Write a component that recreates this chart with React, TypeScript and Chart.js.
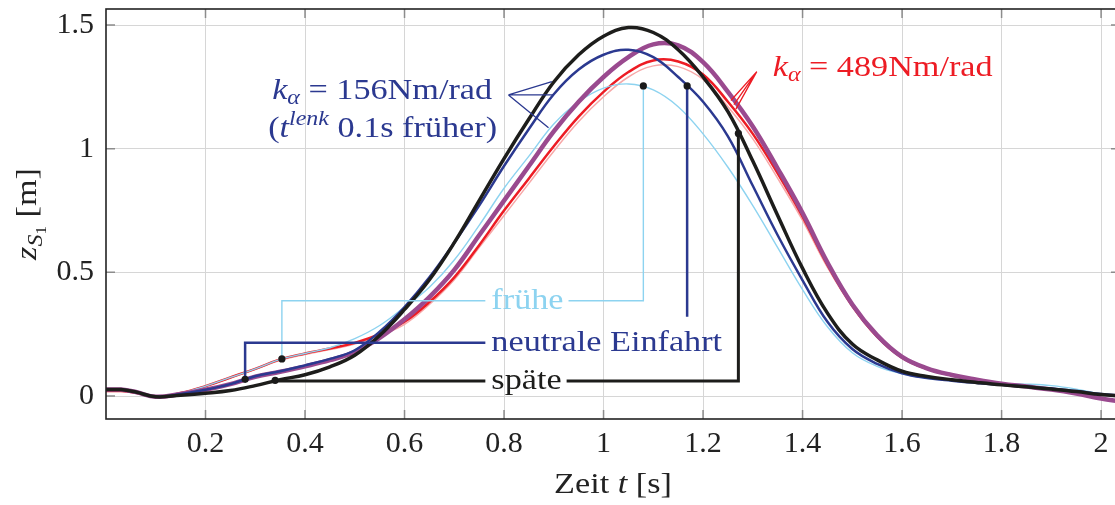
import React, { useEffect, useRef } from 'react';
import { Chart, registerables } from 'chart.js';

Chart.register(...registerables);

// ---------- data ----------
const TIME = [0, 0.03, 0.06, 0.1, 0.15, 0.2, 0.25, 0.3, 0.35, 0.4, 0.45, 0.5, 0.55, 0.6, 0.65, 0.7, 0.75, 0.8, 0.85, 0.9, 0.95, 1.0, 1.05, 1.1, 1.15, 1.2, 1.25, 1.3, 1.35, 1.4, 1.45, 1.5, 1.55, 1.6, 1.65, 1.7, 1.75, 1.8, 1.85, 1.9, 1.95, 2.0, 2.04];

// k_alpha = 156 Nm/rad
const SPAETE_156 = [0.026, 0.026, 0.016, -0.003, 0.003, 0.011, 0.022, 0.042, 0.066, 0.086, 0.118, 0.165, 0.245, 0.35, 0.47, 0.62, 0.79, 0.96, 1.12, 1.27, 1.38, 1.455, 1.49, 1.47, 1.40, 1.29, 1.15, 0.95, 0.73, 0.516, 0.335, 0.21, 0.146, 0.10, 0.079, 0.066, 0.055, 0.045, 0.037, 0.028, 0.018, 0.006, 0.0];
const NEUTRAL_156 = [0.026, 0.026, 0.016, -0.003, 0.008, 0.025, 0.048, 0.080, 0.100, 0.124, 0.150, 0.185, 0.26, 0.36, 0.48, 0.62, 0.77, 0.93, 1.08, 1.22, 1.32, 1.38, 1.40, 1.37, 1.29, 1.19, 1.05, 0.85, 0.65, 0.468, 0.30, 0.19, 0.13, 0.092, 0.073, 0.062, 0.053, 0.045, 0.038, 0.03, 0.02, 0.008, 0.002];
const FRUEHE_156 = [0.024, 0.024, 0.015, -0.003, 0.012, 0.040, 0.075, 0.110, 0.148, 0.172, 0.195, 0.232, 0.285, 0.36, 0.44, 0.55, 0.69, 0.84, 0.97, 1.10, 1.19, 1.245, 1.262, 1.238, 1.17, 1.06, 0.925, 0.77, 0.60, 0.43, 0.28, 0.175, 0.12, 0.09, 0.072, 0.062, 0.055, 0.05, 0.048, 0.042, 0.028, 0.008, 0.0];
// k_alpha = 489 Nm/rad
const SERIES_489_A = [0.026, 0.026, 0.016, -0.003, 0.008, 0.025, 0.048, 0.078, 0.098, 0.12, 0.145, 0.178, 0.235, 0.31, 0.40, 0.51, 0.65, 0.79, 0.93, 1.07, 1.19, 1.29, 1.37, 1.422, 1.418, 1.35, 1.23, 1.09, 0.92, 0.74, 0.54, 0.37, 0.245, 0.158, 0.112, 0.085, 0.066, 0.05, 0.038, 0.026, 0.01, -0.01, -0.022];
const SERIES_489_B = [0.02, 0.02, 0.013, -0.003, 0.012, 0.040, 0.075, 0.110, 0.148, 0.172, 0.192, 0.215, 0.25, 0.30, 0.38, 0.48, 0.61, 0.75, 0.88, 1.01, 1.13, 1.23, 1.31, 1.357, 1.353, 1.30, 1.19, 1.06, 0.90, 0.725, 0.53, 0.365, 0.24, 0.155, 0.11, 0.084, 0.065, 0.05, 0.038, 0.026, 0.01, -0.01, -0.022];
const SERIES_489_C = [0.02, 0.02, 0.013, -0.003, 0.012, 0.040, 0.074, 0.108, 0.144, 0.168, 0.188, 0.21, 0.245, 0.29, 0.37, 0.47, 0.60, 0.73, 0.86, 0.99, 1.11, 1.21, 1.29, 1.335, 1.332, 1.28, 1.17, 1.04, 0.88, 0.71, 0.52, 0.36, 0.238, 0.153, 0.109, 0.083, 0.064, 0.049, 0.037, 0.025, 0.01, -0.01, -0.022];

const X_TICKS = [0.2, 0.4, 0.6, 0.8, 1, 1.2, 1.4, 1.6, 1.8, 2];
const Y_TICKS = [0, 0.5, 1, 1.5];
const X_RANGE = [0, 2.038];
const Y_RANGE = [-0.093, 1.565];

// callouts (data coordinates)
const LABEL_X = 0.7745;
const FRUEHE_START = [0.3535, 0.150];
const FRUEHE_LEVEL = 0.385;
const FRUEHE_END = [1.08, 1.254];
const NEUTRAL_START = [0.2796, 0.0676];
const NEUTRAL_LEVEL = 0.215;
const NEUTRAL_END = [1.168, 1.254];
const NEUTRAL_END_BOTTOM = 0.32;
const SPAETE_START = [0.340, 0.0636];
const SPAETE_LEVEL = 0.061;
const SPAETE_END = [1.271, 1.062];

// annotation texts & fan lines
const K156_TEXT_POS = [0.334, 1.201];
const K156_TEXT2_POS = [0.326, 1.049];
const K156_FAN_FROM = [0.8089, 1.2174];
const K156_FAN_TO = [[0.8961, 1.2713], [0.8994, 1.2174], [0.8894, 1.085]];
const K489_TEXT_POS = [1.340, 1.294];
const K489_FAN_FROM = [1.308, 1.312];
const K489_FAN_TO = [[1.256, 1.195], [1.262, 1.178], [1.266, 1.16]];

// ---------- styling ----------
const FONT = '"Liberation Serif", "Times New Roman", serif';
const BASE = 30;
const SMALL = 21;
const SX = 1.14;
const C_BLACK = '#1d1d1b';
const C_NAVY = '#2b3990';
const C_SKY = '#8dd3f0';
const C_PURPLE = '#9a4a8f';
const C_RED = '#ed1c24';
const C_PINK = '#f7a8a8';

const SERIES = [
  { label: 'späte (156)', values: SPAETE_156, color: C_BLACK, width: 3.5 },
  { label: 'neutrale (156)', values: NEUTRAL_156, color: C_NAVY, width: 2.5 },
  { label: 'purple (489)', values: SERIES_489_A, color: C_PURPLE, width: 4.5 },
  { label: 'frühe (156)', values: FRUEHE_156, color: C_SKY, width: 1.4 },
  { label: 'red (489)', values: SERIES_489_B, color: C_RED, width: 2.5 },
  { label: 'pink (489)', values: SERIES_489_C, color: C_PINK, width: 1.5 },
];

type Part = { t: string; it?: boolean; size?: number; dy?: number };

function fontOf(p: Part) {
  return `${p.it ? 'italic ' : ''}${p.size ?? BASE}px ${FONT}`;
}
function partsWidth(ctx: CanvasRenderingContext2D, parts: Part[]) {
  let w = 0;
  for (const p of parts) {
    ctx.font = fontOf(p);
    w += ctx.measureText(p.t).width;
  }
  return w * SX;
}
function drawParts(ctx: CanvasRenderingContext2D, parts: Part[], x: number, y: number, color: string) {
  ctx.save();
  ctx.translate(x, y);
  ctx.scale(SX, 1);
  ctx.fillStyle = color;
  ctx.textBaseline = 'alphabetic';
  ctx.textAlign = 'left';
  let cx = 0;
  for (const p of parts) {
    ctx.font = fontOf(p);
    ctx.fillText(p.t, cx, p.dy ?? 0);
    cx += ctx.measureText(p.t).width;
  }
  ctx.restore();
}

const framePlugin = {
  id: 'frameAndNotes',
  beforeDatasetsDraw(chart: any) {
    const { ctx, chartArea: a, scales } = chart;
    const xs = scales.x, ys = scales.y;
    ctx.save();
    ctx.strokeStyle = '#8c8c8c';
    ctx.lineWidth = 1.5;
    ctx.beginPath();
    for (const v of X_TICKS) {
      const px = xs.getPixelForValue(v);
      ctx.moveTo(px, a.bottom); ctx.lineTo(px, a.bottom - 9);
      ctx.moveTo(px, a.top); ctx.lineTo(px, a.top + 9);
    }
    for (const v of Y_TICKS) {
      const py = ys.getPixelForValue(v);
      ctx.moveTo(a.left, py); ctx.lineTo(a.left + 9, py);
      ctx.moveTo(a.right, py); ctx.lineTo(a.right - 9, py);
    }
    ctx.stroke();
    ctx.restore();
  },
  afterDatasetsDraw(chart: any) {
    const { ctx, chartArea: a, scales } = chart;
    const X = (v: number) => scales.x.getPixelForValue(v);
    const Y = (v: number) => scales.y.getPixelForValue(v);
    ctx.save();

    // frame
    ctx.strokeStyle = '#222';
    ctx.lineWidth = 1.6;
    ctx.strokeRect(a.left, a.top, a.right - a.left, a.bottom - a.top);

    // callouts
    const gapL = 6, gapR = 5;
    const lx = X(LABEL_X);
    const frueheParts: Part[] = [{ t: 'frühe' }];
    const neutralParts: Part[] = [{ t: 'neutrale Einfahrt' }];
    const spaeteParts: Part[] = [{ t: 'späte' }];
    ctx.lineCap = 'butt';
    ctx.lineJoin = 'miter';

    // frühe
    {
      const w = partsWidth(ctx, frueheParts);
      ctx.strokeStyle = C_SKY; ctx.lineWidth = 1.4;
      ctx.beginPath();
      ctx.moveTo(X(FRUEHE_START[0]), Y(FRUEHE_START[1]));
      ctx.lineTo(X(FRUEHE_START[0]), Y(FRUEHE_LEVEL));
      ctx.lineTo(lx - gapL, Y(FRUEHE_LEVEL));
      ctx.moveTo(lx + w + gapR, Y(FRUEHE_LEVEL));
      ctx.lineTo(X(FRUEHE_END[0]), Y(FRUEHE_LEVEL));
      ctx.lineTo(X(FRUEHE_END[0]), Y(FRUEHE_END[1]));
      ctx.stroke();
      drawParts(ctx, frueheParts, lx, Y(FRUEHE_LEVEL) + 8, C_SKY);
    }
    // neutrale
    {
      ctx.strokeStyle = C_NAVY; ctx.lineWidth = 2.5;
      ctx.beginPath();
      ctx.moveTo(X(NEUTRAL_START[0]), Y(NEUTRAL_START[1]));
      ctx.lineTo(X(NEUTRAL_START[0]), Y(NEUTRAL_LEVEL));
      ctx.lineTo(lx - gapL, Y(NEUTRAL_LEVEL));
      ctx.moveTo(X(NEUTRAL_END[0]), Y(NEUTRAL_END_BOTTOM));
      ctx.lineTo(X(NEUTRAL_END[0]), Y(NEUTRAL_END[1]));
      ctx.stroke();
      drawParts(ctx, neutralParts, lx, Y(NEUTRAL_LEVEL) + 8, C_NAVY);
    }
    // späte
    {
      const w = partsWidth(ctx, spaeteParts);
      ctx.strokeStyle = C_BLACK; ctx.lineWidth = 3;
      ctx.beginPath();
      ctx.moveTo(X(SPAETE_START[0]), Y(SPAETE_LEVEL));
      ctx.lineTo(lx - gapL, Y(SPAETE_LEVEL));
      ctx.moveTo(lx + w + gapR, Y(SPAETE_LEVEL));
      ctx.lineTo(X(SPAETE_END[0]), Y(SPAETE_LEVEL));
      ctx.lineTo(X(SPAETE_END[0]), Y(SPAETE_END[1]));
      ctx.stroke();
      drawParts(ctx, spaeteParts, lx, Y(SPAETE_LEVEL) + 8, C_BLACK);
    }
    // dots
    ctx.fillStyle = '#1a1a1a';
    for (const p of [FRUEHE_START, FRUEHE_END, NEUTRAL_START, NEUTRAL_END, SPAETE_START, SPAETE_END]) {
      ctx.beginPath();
      ctx.arc(X(p[0]), Y(p[1]), 3.6, 0, Math.PI * 2);
      ctx.fill();
    }

    // fan lines
    ctx.lineWidth = 1.3;
    ctx.strokeStyle = C_NAVY;
    ctx.beginPath();
    for (const t of K156_FAN_TO) {
      ctx.moveTo(X(K156_FAN_FROM[0]), Y(K156_FAN_FROM[1]));
      ctx.lineTo(X(t[0]), Y(t[1]));
    }
    ctx.stroke();
    ctx.strokeStyle = C_RED;
    ctx.beginPath();
    for (const t of K489_FAN_TO) {
      ctx.moveTo(X(K489_FAN_FROM[0]), Y(K489_FAN_FROM[1]));
      ctx.lineTo(X(t[0]), Y(t[1]));
    }
    ctx.stroke();

    // annotation texts
    drawParts(ctx, [{ t: 'k', it: true }, { t: 'α', it: true, size: SMALL, dy: 5 }, { t: ' = 156Nm/rad' }],
      X(K156_TEXT_POS[0]), Y(K156_TEXT_POS[1]), C_NAVY);
    drawParts(ctx, [{ t: '(' }, { t: 't', it: true }, { t: 'lenk', it: true, size: SMALL, dy: -12 }, { t: ' 0.1s früher)' }],
      X(K156_TEXT2_POS[0]), Y(K156_TEXT2_POS[1]), C_NAVY);
    drawParts(ctx, [{ t: 'k', it: true }, { t: 'α', it: true, size: SMALL, dy: 5 }, { t: ' = 489Nm/rad' }],
      X(K489_TEXT_POS[0]), Y(K489_TEXT_POS[1]), C_RED);

    // axis titles
    const xt: Part[] = [{ t: 'Zeit ' }, { t: 't', it: true }, { t: ' [s]' }];
    const xw = partsWidth(ctx, xt);
    drawParts(ctx, xt, (a.left + a.right) / 2 - xw / 2, a.bottom + 74, '#222');

    const yt: Part[] = [{ t: 'z', it: true }, { t: 'S', it: true, size: SMALL, dy: 6 }, { t: '1', size: 15, dy: 10 }, { t: ' [m]' }];
    const yw = partsWidth(ctx, yt);
    ctx.save();
    ctx.translate(a.left - 70, (a.top + a.bottom) / 2);
    ctx.rotate(-Math.PI / 2);
    drawParts(ctx, yt, -yw / 2, 0, '#222');
    ctx.restore();

    ctx.restore();
  },
};

export default function App() {
  const ref = useRef<HTMLCanvasElement>(null);
  useEffect(() => {
    const canvas = ref.current;
    if (!canvas) return;
    const chart = new Chart(canvas, {
      type: 'line',
      data: {
        datasets: SERIES.map((s) => ({
          label: s.label,
          data: TIME.map((t, i) => ({ x: t, y: s.values[i] })),
          borderColor: s.color,
          backgroundColor: s.color,
          borderWidth: s.width,
          pointRadius: 0,
          tension: 0.4,
          fill: false,
        })),
      },
      options: {
        animation: false,
        responsive: true,
        maintainAspectRatio: false,
        events: [],
        layout: { padding: { top: 9, right: 10, left: 0, bottom: 0 } },
        plugins: { legend: { display: false }, tooltip: { enabled: false } },
        scales: {
          x: {
            type: 'linear',
            min: X_RANGE[0],
            max: X_RANGE[1],
            afterBuildTicks: (s: any) => { s.ticks = X_TICKS.map((v) => ({ value: v })); },
            afterFit: (s: any) => { s.height = 86; s.paddingLeft = 0; s.paddingRight = 0; },
            grid: { color: '#d6d6d6', lineWidth: 1, drawTicks: false },
            border: { display: false },
            ticks: {
              font: { family: FONT, size: BASE },
              color: '#222',
              padding: 7,
              maxRotation: 0,
              autoSkip: false,
              callback: (v: any) => String(v),
            },
          },
          y: {
            type: 'linear',
            min: Y_RANGE[0],
            max: Y_RANGE[1],
            afterBuildTicks: (s: any) => { s.ticks = Y_TICKS.map((v) => ({ value: v })); },
            afterFit: (s: any) => { s.width = 106; s.paddingTop = 0; s.paddingBottom = 0; },
            grid: { color: '#d6d6d6', lineWidth: 1, drawTicks: false },
            border: { display: false },
            ticks: {
              font: { family: FONT, size: BASE },
              color: '#222',
              padding: 12,
              autoSkip: false,
              callback: (v: any) => String(v),
            },
          },
        },
      },
      plugins: [framePlugin],
    });
    return () => chart.destroy();
  }, []);
  return (
    <div style={{ position: 'fixed', left: 0, top: 0, width: 1130, height: 505, background: '#fff' }}>
      <canvas ref={ref} />
    </div>
  );
}
